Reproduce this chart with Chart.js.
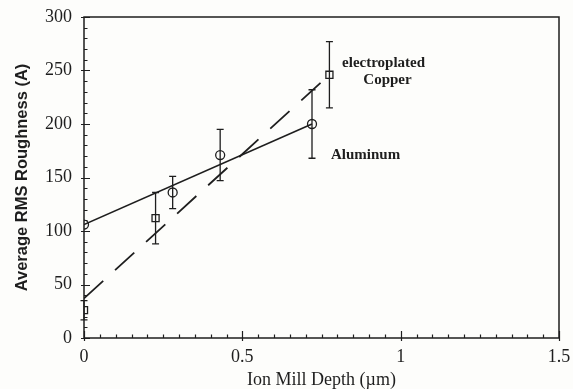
<!DOCTYPE html>
<html>
<head>
<meta charset="utf-8">
<script src="https://cdn.jsdelivr.net/npm/chart.js@4.4.1/dist/chart.umd.min.js"></script>
<style>
  html, body { margin: 0; padding: 0; background: #fdfdfb; }
  #wrap { width: 573px; height: 389px; }
</style>
</head>
<body>
<div id="wrap"><canvas id="c" width="573" height="389"></canvas></div>
<script>
// Measured RMS roughness vs. ion mill depth
const depthAl = [0, 0.28, 0.43, 0.72];
const roughAl = [106, 136, 171, 200];
const errAl   = [0, 15, 24, 32];

const depthCu = [0, 0.226, 0.775];
const roughCu = [26, 112, 246];
const errCu   = [9, 24, 31];

// Linear fit end points
const fitAlX = [0, 0.72];
const fitAlY = [106, 200];
const fitCuX = [0, 0.775];
const fitCuY = [37, 246];

const xTicks = [0, 0.5, 1, 1.5];
const yTicks = [0, 50, 100, 150, 200, 250, 300];

const ink = '#1e1e1e';
const serif = '"Liberation Serif", "DejaVu Serif", serif';
const sans = '"Liberation Sans", Arial, sans-serif';

const pts = (xs, ys) => xs.map((x, i) => ({x, y: ys[i]}));

// Vertical error bars with caps, drawn from the error arrays
const errorBars = {
  id: 'errorBars',
  afterDatasetsDraw(chart) {
    const {ctx, scales: {x, y}} = chart;
    ctx.save();
    ctx.strokeStyle = ink;
    ctx.lineWidth = 1.3;
    chart.data.datasets.forEach(ds => {
      if (!ds.err) return;
      ds.data.forEach((p, i) => {
        const e = ds.err[i];
        if (!e) return;
        const px = x.getPixelForValue(p.x);
        const yt = y.getPixelForValue(p.y + e);
        const yb = y.getPixelForValue(p.y - e);
        ctx.beginPath();
        ctx.moveTo(px, yt); ctx.lineTo(px, yb);
        ctx.moveTo(px - 3.5, yt); ctx.lineTo(px + 3.5, yt);
        ctx.moveTo(px - 3.5, yb); ctx.lineTo(px + 3.5, yb);
        ctx.stroke();
      });
    });
    ctx.restore();
  }
};

// Boxed frame with inward major/minor ticks
const frame = {
  id: 'frame',
  beforeDraw(chart) {
    const {ctx, width, height} = chart;
    ctx.save();
    ctx.fillStyle = '#fdfdfb';
    ctx.fillRect(0, 0, width, height);
    ctx.restore();
  },
  afterDraw(chart) {
    const {ctx, chartArea: a, scales: {x, y}} = chart;
    ctx.save();
    ctx.strokeStyle = ink;
    ctx.lineWidth = 1.5;
    ctx.strokeRect(a.left, a.top, a.right - a.left, a.bottom - a.top);
    ctx.lineWidth = 1.2;
    ctx.beginPath();
    for (let v = 0; v <= 300.001; v += 10) {
      const py = Math.round(y.getPixelForValue(v)) + 0.5;
      const major = Math.abs(v % 50) < 1e-6;
      ctx.moveTo(a.left - (major ? 3 : 0), py);
      ctx.lineTo(a.left + (major ? 6 : 3.5), py);
    }
    for (let v = 0; v <= 1.5001; v += 0.05) {
      const px = Math.round(x.getPixelForValue(v)) + 0.5;
      const major = Math.abs((v / 0.5) - Math.round(v / 0.5)) < 1e-6;
      ctx.moveTo(px, a.bottom + (major ? 3 : 0));
      ctx.lineTo(px, a.bottom - (major ? 7 : 3.5));
    }
    ctx.stroke();
    ctx.restore();
  }
};

// Series names written beside their curves
const curveLabels = [
  {text: 'electroplated', x: 0.815, y: 257},
  {text: 'Copper', x: 0.882, y: 241},
  {text: 'Aluminum', x: 0.78, y: 171}
];
const labelsPlugin = {
  id: 'curveLabels',
  afterDatasetsDraw(chart) {
    const {ctx, scales: {x, y}} = chart;
    ctx.save();
    ctx.fillStyle = ink;
    ctx.font = 'bold 15px ' + serif;
    ctx.textBaseline = 'middle';
    ctx.textAlign = 'left';
    curveLabels.forEach(l => ctx.fillText(l.text, x.getPixelForValue(l.x), y.getPixelForValue(l.y)));
    ctx.restore();
  }
};

new Chart(document.getElementById('c'), {
  type: 'scatter',
  data: {
    datasets: [
      {
        label: 'Aluminum fit',
        data: pts(fitAlX, fitAlY),
        showLine: true,
        borderColor: ink,
        borderWidth: 1.6,
        pointRadius: 0
      },
      {
        label: 'Copper fit',
        data: pts(fitCuX, fitCuY),
        showLine: true,
        borderColor: ink,
        borderWidth: 1.8,
        borderDash: [26, 16],
        pointRadius: 0
      },
      {
        label: 'Aluminum',
        data: pts(depthAl, roughAl),
        err: errAl,
        pointStyle: 'circle',
        pointRadius: 4.5,
        borderColor: ink,
        borderWidth: 1.3,
        backgroundColor: 'rgba(0,0,0,0)'
      },
      {
        label: 'electroplated Copper',
        data: pts(depthCu, roughCu),
        err: errCu,
        pointStyle: 'rect',
        pointRadius: 5,
        borderColor: ink,
        borderWidth: 1.3,
        backgroundColor: 'rgba(0,0,0,0)'
      }
    ]
  },
  options: {
    responsive: false,
    animation: false,
    events: [],
    layout: {padding: {top: 17, right: 14, left: 0, bottom: 0}},
    plugins: {legend: {display: false}, tooltip: {enabled: false}},
    scales: {
      x: {
        type: 'linear',
        min: 0, max: 1.5,
        afterBuildTicks(s) { s.ticks = xTicks.map(v => ({value: v})); },
        afterFit(s) { s.height = 51; s.paddingLeft = 0; s.paddingRight = 0; },
        grid: {display: false, drawTicks: false},
        border: {display: false},
        ticks: {
          padding: 8,
          color: ink,
          font: {family: serif, size: 18},
          callback: v => String(v)
        },
        title: {
          display: true,
          text: 'Ion Mill Depth (\u00b5m)',
          color: ink,
          font: {family: serif, size: 18, lineHeight: 1.0},
          padding: {top: 0, bottom: 0}
        }
      },
      y: {
        type: 'linear',
        min: 0, max: 300,
        afterBuildTicks(s) { s.ticks = yTicks.map(v => ({value: v})); },
        afterFit(s) { s.width = 84; s.paddingTop = 0; s.paddingBottom = 0; },
        grid: {display: false, drawTicks: false},
        border: {display: false},
        ticks: {
          padding: 12,
          color: ink,
          font: {family: serif, size: 18}
        },
        title: {
          display: true,
          text: 'Average RMS Roughness (A)',
          color: ink,
          font: {family: sans, size: 16.5, weight: 'bold'},
          padding: {top: 13, bottom: 0}
        }
      }
    }
  },
  plugins: [frame, errorBars, labelsPlugin]
});
</script>
</body>
</html>
